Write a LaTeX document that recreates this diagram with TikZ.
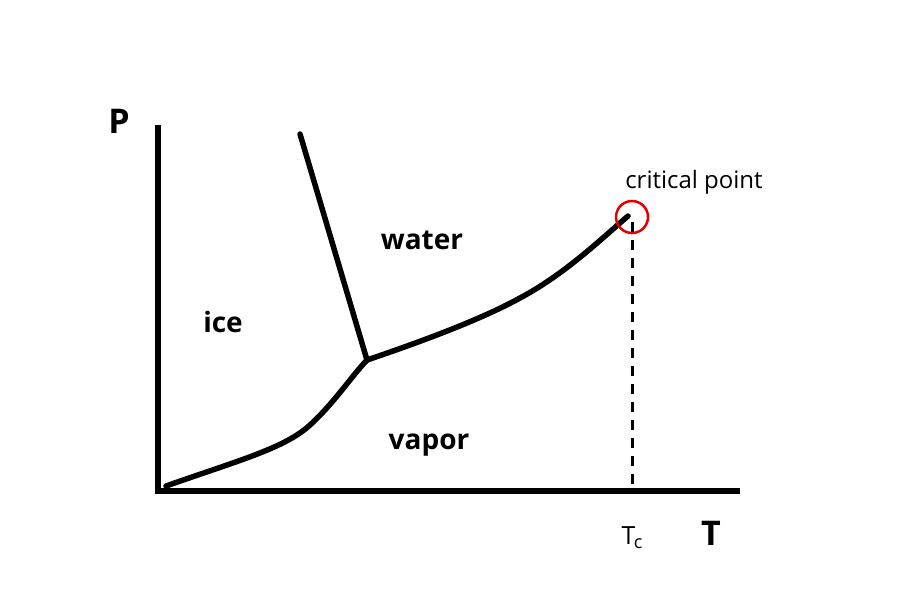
\documentclass[tikz,border=0pt]{standalone}
\usepackage{fontspec}
\setmainfont{Open Sans}
\usepackage{tikz}
\usetikzlibrary{positioning, calc}

\begin{document}
\begin{tikzpicture}[
  x=1pt, y=-1pt,
  axis/.style={line width=6pt, black},
  phaseline/.style={line width=5.5pt, black, line cap=round, line join=round},
  region/.style={font=\fontsize{28}{30}\selectfont\bfseries, inner sep=0pt},
  axislabel/.style={font=\fontsize{34}{36}\selectfont\bfseries, inner sep=0pt}
]
\useasboundingbox (0,0) rectangle (899,600);

% axes
\coordinate (origin) at (158,491);
\coordinate (ptop) at (158,125);
\coordinate (tend) at (740,491);
\draw[axis] (ptop) -- (origin) -- (tend);

% phase boundaries
\coordinate (triple) at (367,360);
\coordinate (meltend) at (300,134);
\coordinate (subl) at (166,486);
\coordinate (crit) at (628,216);
\draw[phaseline] (meltend) -- (triple);
\draw[phaseline] (subl) .. controls (240,460) and (285,448) .. (310,425)
  .. controls (335,402) and (350,378) .. (triple);
\draw[phaseline] (triple) .. controls (420,342) and (480,320) .. (520,298)
  .. controls (565,274) and (600,240) .. (crit);

% critical point
\node[circle, draw=red!90!black, line width=2.5pt, minimum size=32pt, inner sep=0pt] (critmark) at (632,217) {};
\coordinate (tcfoot) at (632,489);
\draw[line width=3pt, dash pattern=on 10pt off 8pt] (632,222) -- (tcfoot);

% labels
\node[axislabel] (plabel) at (119,121) {P};
\node[axislabel] (tlabel) at (711,533) {T};
\node[font=\fontsize{25}{26}\selectfont, inner sep=0pt] (tclabel) at (632,538) {T\kern-1.5pt\raisebox{-4pt}{\fontsize{18}{18}\selectfont c}};
\node[font=\fontsize{24}{26}\selectfont, inner sep=0pt] (critlabel) at (694,182) {critical point};
\node[region] (water) at (422,240) {water};
\node[region] (ice) at (223,322) {ice};
\node[region] (vapor) at (429,445) {vapor};
\end{tikzpicture}
\end{document}
